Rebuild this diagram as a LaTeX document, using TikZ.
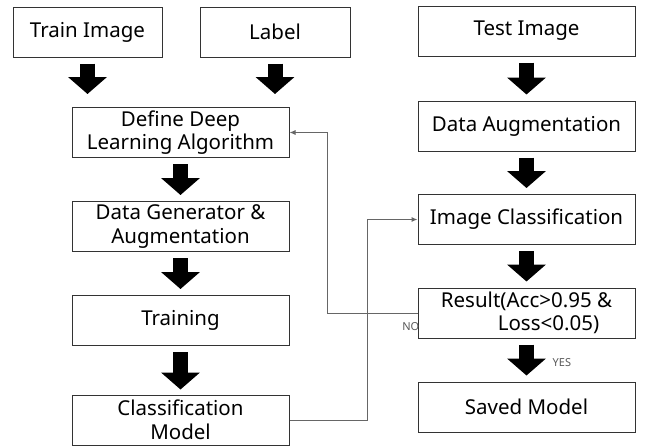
\documentclass[tikz,border=0pt]{standalone}
\usepackage{fontspec}
\setmainfont{Noto Sans}
\usetikzlibrary{arrows.meta}

\tikzstyle{box} = [draw=black!80, line width=1pt, minimum width=217pt, minimum height=50pt, inner sep=1pt, align=center, font=\fontsize{20.5}{23.5}\selectfont]
\tikzstyle{bigarrow} = [line width=15pt, -{Triangle[width=38pt,length=17pt]}, shorten <=6pt, shorten >=6pt]
\tikzstyle{feedback} = [draw=black!60, line width=1pt, -{Latex[length=6pt,width=5pt]}]
\tikzstyle{tag} = [font=\fontsize{11}{13}\selectfont, text=black!65, inner sep=0pt]

\begin{document}
\begin{tikzpicture}[x=1pt,y=1pt]
		\useasboundingbox (0,0) rectangle (645,-445);
		\fill[white] (0,0) rectangle (645,-445);
		% left column
		\node[box, minimum width=149pt] (train) at (87.5,-32) {Train Image};
		\node[box, minimum width=150pt] (label) at (275,-32) {Label};
		\node[box] (define) at (180.5,-132.5) {Define Deep\\Learning Algorithm};
		\node[box] (datagen) at (180.5,-226.5) {Data Generator \&\\Augmentation};
		\node[box] (training) at (180.5,-320.5) {Training};
		\node[box] (model) at (180.5,-420) {Classification\\Model};
		% right column
		\node[box] (test) at (526.5,-31) {Test Image};
		\node[box] (augment) at (526.5,-126) {Data Augmentation};
		\node[box] (classify) at (526.5,-219.5) {Image Classification};
		\node[box] (result) at (526.5,-313) {Result(Acc>0.95 \&\\\hspace*{44pt}Loss<0.05)};
		\node[box] (saved) at (526.5,-407) {Saved Model};
		\draw[bigarrow, shorten >=13pt] (train.south) -- (train.south |- define.north);
		\draw[bigarrow, shorten >=13pt] (label.south) -- (label.south |- define.north);
		\draw[bigarrow] (define) -- (datagen);
		\draw[bigarrow] (datagen) -- (training);
		\draw[bigarrow, shorten >=5pt] (training) -- (model);
		\draw[bigarrow] (test) -- (augment);
		\draw[bigarrow] (augment) -- (classify);
		\draw[bigarrow] (classify) -- (result);
		\draw[bigarrow] (result) -- (saved);
		% loops
		\draw[feedback] (model.east) -- ++(78,0) |- (classify.west);
		\draw[feedback] (result.west) -- ++(-90,0) |- (define.east);
		\node[tag, anchor=east] (no) at ([xshift=2pt,yshift=-14pt]result.west) {NO};
		\node[tag, anchor=west] (yes) at ([xshift=26pt,yshift=-24pt]result.south) {YES};
\end{tikzpicture}
\end{document}
